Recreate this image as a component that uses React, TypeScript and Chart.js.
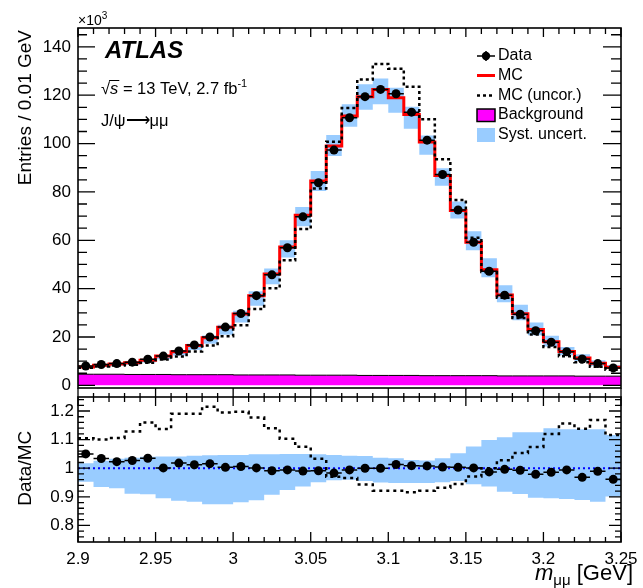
import React, { useEffect, useRef } from "react";
import { Chart, registerables } from "chart.js";
Chart.register(...registerables);

// ---------- data (bins of 0.01 GeV, lower edges) ----------
const binLow = [
  2.9, 2.91, 2.92, 2.93, 2.94, 2.95, 2.96, 2.97, 2.98, 2.99, 3.0, 3.01, 3.02, 3.03, 3.04, 3.05, 3.06, 3.07,
  3.08, 3.09, 3.1, 3.11, 3.12, 3.13, 3.14, 3.15, 3.16, 3.17, 3.18, 3.19, 3.2, 3.21, 3.22, 3.23, 3.24,
];
const binWidth = 0.01;

// Entries (x10^3)
const dataVals = [
  8.0, 8.6, 9.0, 9.6, 10.8, 12.1, 14.2, 16.7, 20.0, 24.1, 29.7, 37.1, 45.7, 56.9, 69.7, 83.8, 97.3, 110.7,
  119.4, 122.4, 120.6, 113.0, 101.4, 87.2, 72.5, 59.2, 47.2, 37.3, 29.4, 22.6, 17.8, 13.9, 10.9, 9.0, 7.2,
];
const mcVals = [
  7.6, 8.3, 8.8, 9.35, 10.4, 12.1, 13.9, 16.5, 19.7, 24.0, 29.5, 37.1, 46.1, 57.2, 70.3, 84.5, 99.0, 111.4,
  119.4, 122.4, 118.9, 112.0, 100.6, 86.8, 72.3, 59.2, 47.8, 37.4, 29.6, 23.1, 18.0, 14.0, 11.3, 9.1, 7.5,
];
const uncorVals = [
  7.3, 7.8, 8.2, 8.5, 9.3, 10.7, 11.9, 14.0, 16.5, 20.3, 24.9, 31.6, 40.2, 51.7, 64.7, 81.4, 100.8, 114.7,
  126.5, 132.9, 130.9, 123.5, 110.1, 93.5, 76.7, 61.0, 46.9, 36.2, 27.9, 21.0, 15.9, 12.0, 9.6, 7.7, 6.5,
];
const bkgVals = [
  4.6, 4.6, 4.6, 4.5, 4.5, 4.5, 4.4, 4.4, 4.4, 4.4, 4.3, 4.3, 4.3, 4.3, 4.2, 4.2, 4.2, 4.2,
  4.1, 4.1, 4.1, 4.1, 4.0, 4.0, 4.0, 4.0, 4.0, 3.9, 3.9, 3.9, 3.9, 3.9, 3.8, 3.8, 3.8,
];
// relative systematic band (upper / lower edge, as fraction of MC)
const systUp = [
  1.017, 1.026, 1.033, 1.037, 1.04, 1.041, 1.041, 1.044, 1.045, 1.046, 1.046, 1.049, 1.049, 1.05, 1.05, 1.049,
  1.046, 1.044, 1.043, 1.037, 1.035, 1.029, 1.027, 1.035, 1.052, 1.076, 1.099, 1.108, 1.126, 1.126, 1.14,
  1.136, 1.136, 1.136, 1.116,
];
const systDown = [
  0.953, 0.934, 0.93, 0.911, 0.909, 0.895, 0.886, 0.883, 0.874, 0.874, 0.881, 0.888, 0.907, 0.924, 0.936,
  0.951, 0.958, 0.96, 0.955, 0.95, 0.948, 0.948, 0.948, 0.951, 0.955, 0.944, 0.936, 0.918, 0.91, 0.897, 0.895,
  0.892, 0.889, 0.883, 0.901,
];
// Data/MC ratio
const ratioData = [
  1.05, 1.034, 1.023, 1.027, 1.035, 1.001, 1.018, 1.012, 1.016, 1.003, 1.006, 1.001, 0.991, 0.994, 0.99,
  0.991, 0.983, 0.994, 1.0, 1.0, 1.013, 1.009, 1.008, 1.004, 1.003, 1.001, 0.987, 0.996, 0.993, 0.979, 0.986,
  0.994, 0.968, 0.989, 0.961,
];
// Data/MC(uncor.) ratio
const ratioUncor = [
  1.105, 1.1, 1.106, 1.128, 1.16, 1.137, 1.19, 1.19, 1.215, 1.195, 1.197, 1.177, 1.14, 1.103, 1.075, 1.033,
  0.97, 0.966, 0.943, 0.921, 0.921, 0.916, 0.921, 0.932, 0.945, 0.971, 1.0, 1.028, 1.053, 1.074, 1.12, 1.156,
  1.138, 1.169, 1.116,
];

const xMin = 2.9;
const xMax = 3.25;
const yTopMin = -1.1;
const yTopMax = 147.8;
const yRatMin = 0.742;
const yRatMax = 1.249;

// ---------- styling ----------
const FONT = "'Liberation Sans', Arial, Helvetica, sans-serif";
const BAND = "#99ccff";
const W = 643;
const TOP_H = 398;
const BOT_TOP = 380;
const BOT_H = 208;

type Pt = { x: number; y: number | null };

function steps(vals: number[]): Pt[] {
  const pts: Pt[] = [];
  vals.forEach((v, i) => {
    pts.push({ x: binLow[i], y: v });
    pts.push({ x: binLow[i] + binWidth, y: v });
  });
  return pts;
}
function hbars(vals: number[]): Pt[] {
  const pts: Pt[] = [];
  vals.forEach((v, i) => {
    pts.push({ x: binLow[i], y: v });
    pts.push({ x: binLow[i] + binWidth, y: v });
    pts.push({ x: binLow[i] + binWidth, y: null });
  });
  return pts;
}
function centers(vals: number[]): Pt[] {
  return vals.map((v, i) => ({ x: binLow[i] + binWidth / 2, y: v }));
}

type FrameCfg = {
  xMajor: number;
  xMinor: number;
  yMajor: number;
  yMinor: number;
  left: [number, number];
  right: [number, number];
  top: [number, number];
  bottom: [number, number] | null;
  topOut: [number, number] | null;
};

function tickList(min: number, max: number, minor: number, major: number) {
  const res: [number, boolean][] = [];
  const n0 = Math.ceil(min / minor - 1e-6);
  const n1 = Math.floor(max / minor + 1e-6);
  for (let n = n0; n <= n1; n++) {
    const v = n * minor;
    const r = v / major;
    res.push([v, Math.abs(r - Math.round(r)) < 1e-6]);
  }
  return res;
}

function framePlugin(cfg: FrameCfg) {
  return {
    id: "rootFrame",
    afterDatasetsDraw(chart: any) {
      const { ctx, chartArea: a, scales } = chart;
      const xs = scales.x;
      const ys = scales.y;
      ctx.save();
      ctx.strokeStyle = "#000";
      ctx.lineWidth = 1.3;
      ctx.beginPath();
      for (const [v, maj] of tickList(xs.min, xs.max, cfg.xMinor, cfg.xMajor)) {
        const px = xs.getPixelForValue(v);
        const lt = maj ? cfg.top[0] : cfg.top[1];
        ctx.moveTo(px, a.top);
        ctx.lineTo(px, a.top + lt);
        if (cfg.bottom) {
          const lb = maj ? cfg.bottom[0] : cfg.bottom[1];
          ctx.moveTo(px, a.bottom);
          ctx.lineTo(px, a.bottom - lb);
        }
        if (cfg.topOut) {
          const lo = maj ? cfg.topOut[0] : cfg.topOut[1];
          ctx.moveTo(px, a.top);
          ctx.lineTo(px, a.top - lo);
        }
      }
      for (const [v, maj] of tickList(ys.min, ys.max, cfg.yMinor, cfg.yMajor)) {
        const py = ys.getPixelForValue(v);
        const ll = maj ? cfg.left[0] : cfg.left[1];
        const lr = maj ? cfg.right[0] : cfg.right[1];
        ctx.moveTo(a.left, py);
        ctx.lineTo(a.left + ll, py);
        ctx.moveTo(a.right, py);
        ctx.lineTo(a.right - lr, py);
      }
      ctx.stroke();
      ctx.lineWidth = 1.6;
      ctx.strokeRect(a.left, a.top, a.right - a.left, a.bottom - a.top);
      ctx.restore();
    },
  };
}

const topTextPlugin = {
  id: "topText",
  afterDraw(chart: any) {
    const ctx: CanvasRenderingContext2D = chart.ctx;
    ctx.save();
    ctx.fillStyle = "#000";
    ctx.textBaseline = "alphabetic";
    // x10^3
    ctx.font = `14px ${FONT}`;
    ctx.textAlign = "left";
    ctx.fillText("×10", 78, 25);
    const w10 = ctx.measureText("×10").width;
    ctx.font = `10px ${FONT}`;
    ctx.fillText("3", 78 + w10, 19);

    // y title
    ctx.save();
    ctx.translate(26, 30);
    ctx.rotate(-Math.PI / 2);
    ctx.font = `19px ${FONT}`;
    ctx.textAlign = "right";
    ctx.textBaseline = "middle";
    ctx.fillText("Entries / 0.01 GeV", 0, 0);
    ctx.restore();

    // ATLAS
    ctx.font = `italic bold 24px ${FONT}`;
    ctx.textAlign = "left";
    ctx.fillText("ATLAS", 105, 58);

    // sqrt(s) line
    let x = 101;
    const yb = 94;
    ctx.font = `16.5px ${FONT}`;
    ctx.fillText("√", x, yb);
    x += ctx.measureText("√").width;
    ctx.font = `italic 16.5px ${FONT}`;
    ctx.fillText("s", x, yb);
    const ws = ctx.measureText("s").width;
    ctx.lineWidth = 1;
    ctx.strokeStyle = "#000";
    ctx.beginPath();
    ctx.moveTo(x - 1, yb - 13.5);
    ctx.lineTo(x + ws + 1, yb - 13.5);
    ctx.stroke();
    x += ws;
    ctx.font = `16.5px ${FONT}`;
    const rest = " = 13 TeV, 2.7 fb";
    ctx.fillText(rest, x, yb);
    x += ctx.measureText(rest).width;
    ctx.font = `11px ${FONT}`;
    ctx.fillText("-1", x, yb - 7);

    // J/psi -> mu mu
    x = 101;
    ctx.font = `16.5px ${FONT}`;
    ctx.fillText("J/ψ", x, 126);
    x += ctx.measureText("J/ψ").width;
    ctx.fillText("⟶", x, 126);
    x += ctx.measureText("⟶").width;
    ctx.fillText("μμ", x, 126);

    // legend
    const lx0 = 477;
    const lx1 = 495;
    const tx = 498;
    const rows = [56, 75.5, 95.5, 115, 135];
    ctx.textBaseline = "middle";
    ctx.font = `16px ${FONT}`;
    // Data
    ctx.strokeStyle = "#000";
    ctx.lineWidth = 1.5;
    ctx.beginPath();
    ctx.moveTo(lx0, rows[0]);
    ctx.lineTo(lx1, rows[0]);
    ctx.moveTo((lx0 + lx1) / 2, rows[0] - 5);
    ctx.lineTo((lx0 + lx1) / 2, rows[0] + 5);
    ctx.stroke();
    ctx.beginPath();
    ctx.arc((lx0 + lx1) / 2, rows[0], 4.2, 0, Math.PI * 2);
    ctx.fill();
    ctx.fillText("Data", tx, rows[0]);
    // MC
    ctx.strokeStyle = "#ff0000";
    ctx.lineWidth = 3;
    ctx.beginPath();
    ctx.moveTo(lx0, rows[1]);
    ctx.lineTo(lx1, rows[1]);
    ctx.stroke();
    ctx.fillText("MC", tx, rows[1]);
    // MC uncor
    ctx.strokeStyle = "#000";
    ctx.lineWidth = 2.5;
    ctx.setLineDash([3, 3]);
    ctx.beginPath();
    ctx.moveTo(lx0, rows[2]);
    ctx.lineTo(lx1, rows[2]);
    ctx.stroke();
    ctx.setLineDash([]);
    ctx.fillText("MC (uncor.)", tx, rows[2]);
    // Background
    ctx.fillStyle = "#ff00ff";
    ctx.fillRect(lx0, rows[3] - 6, lx1 - lx0, 12.5);
    ctx.lineWidth = 1.5;
    ctx.strokeRect(lx0, rows[3] - 6, lx1 - lx0, 12.5);
    ctx.fillStyle = "#000";
    ctx.fillText("Background", tx, rows[3]);
    // Syst
    ctx.fillStyle = BAND;
    ctx.fillRect(lx0, rows[4] - 7, lx1 - lx0, 14);
    ctx.fillStyle = "#000";
    ctx.fillText("Syst. uncert.", tx, rows[4]);
    ctx.restore();
  },
};

const botTextPlugin = {
  id: "botText",
  afterDraw(chart: any) {
    const ctx: CanvasRenderingContext2D = chart.ctx;
    ctx.save();
    ctx.fillStyle = "#000";
    ctx.save();
    ctx.translate(26, chart.scales.y.getPixelForValue(1));
    ctx.rotate(-Math.PI / 2);
    ctx.font = `19px ${FONT}`;
    ctx.textAlign = "center";
    ctx.textBaseline = "middle";
    ctx.fillText("Data/MC", 0, 0);
    ctx.restore();

    // x title: m_{mumu} [GeV]
    const yb = 580 - BOT_TOP;
    ctx.textBaseline = "alphabetic";
    ctx.textAlign = "left";
    ctx.font = `italic 22px ${FONT}`;
    const wm = ctx.measureText("m").width;
    ctx.font = `15px ${FONT}`;
    const wmu = ctx.measureText("μμ").width;
    ctx.font = `22px ${FONT}`;
    const wg = ctx.measureText(" [GeV]").width;
    let x = 633 - (wm + wmu + wg);
    ctx.font = `italic 22px ${FONT}`;
    ctx.fillText("m", x, yb);
    x += wm;
    ctx.font = `15px ${FONT}`;
    ctx.fillText("μμ", x, yb + 5);
    x += wmu;
    ctx.font = `22px ${FONT}`;
    ctx.fillText(" [GeV]", x, yb);
    ctx.restore();
  },
};

function fmt(v: number) {
  return String(parseFloat(v.toFixed(3)));
}

const hiddenGrid = { display: false, drawTicks: false };

function fixY(s: any) {
  s.width = 78;
  s.paddingTop = 0;
  s.paddingBottom = 0;
}
function fixX(s: any) {
  s.height = 46;
  s.paddingLeft = 0;
  s.paddingRight = 0;
}

export default function App() {
  const topRef = useRef<HTMLCanvasElement | null>(null);
  const botRef = useRef<HTMLCanvasElement | null>(null);

  useEffect(() => {
    const bandLoTop = steps(mcVals.map((m, i) => m * systDown[i]));
    const bandHiTop = steps(mcVals.map((m, i) => m * systUp[i]));
    const clear = "rgba(0,0,0,0)";

    const top = new Chart(topRef.current as HTMLCanvasElement, {
      type: "line",
      data: {
        datasets: [
          { data: bandLoTop, borderColor: clear, borderWidth: 0, pointRadius: 0, fill: false, order: 10 },
          { data: bandHiTop, borderColor: clear, borderWidth: 0, pointRadius: 0, fill: "-1", backgroundColor: BAND, order: 9 },
          { data: steps(bkgVals), borderColor: "#000", borderWidth: 1, pointRadius: 0, fill: "origin", backgroundColor: "#ff00ff", order: 8 },
          { data: steps(mcVals), borderColor: "#ff0000", borderWidth: 3, pointRadius: 0, fill: false, order: 7 },
          { data: steps(uncorVals), borderColor: "#000", borderWidth: 2.5, borderDash: [3, 3], pointRadius: 0, fill: false, order: 6 },
          { data: hbars(dataVals), borderColor: "#000", borderWidth: 1.5, pointRadius: 0, fill: false, spanGaps: false, order: 5 },
          { data: centers(dataVals), showLine: false, pointRadius: 4.5, pointBackgroundColor: "#000", pointBorderWidth: 0, order: 4 },
        ] as any,
      },
      options: {
        animation: false,
        responsive: false,
        maintainAspectRatio: false,
        devicePixelRatio: window.devicePixelRatio || 1,
        layout: { padding: { left: 0, right: 22, top: 28, bottom: TOP_H - 388 } },
        scales: {
          x: { type: "linear", min: xMin, max: xMax, display: false },
          y: {
            type: "linear",
            min: yTopMin,
            max: yTopMax,
            grid: hiddenGrid,
            border: { display: false },
            ticks: { stepSize: 20, includeBounds: false, padding: 7, color: "#000", font: { family: FONT, size: 17 } },
            afterFit: fixY,
          },
        },
        plugins: { legend: { display: false }, tooltip: { enabled: false } },
      } as any,
      plugins: [
        framePlugin({
          xMajor: 0.05,
          xMinor: 0.01,
          yMajor: 20,
          yMinor: 5,
          left: [17, 9],
          right: [18, 10],
          top: [9, 6],
          bottom: null,
          topOut: null,
        }),
        topTextPlugin,
      ] as any,
    });

    const bot = new Chart(botRef.current as HTMLCanvasElement, {
      type: "line",
      data: {
        datasets: [
          { data: steps(systDown), borderColor: clear, borderWidth: 0, pointRadius: 0, fill: false, order: 10 },
          { data: steps(systUp), borderColor: clear, borderWidth: 0, pointRadius: 0, fill: "-1", backgroundColor: BAND, order: 9 },
          {
            data: [
              { x: xMin, y: 1 },
              { x: xMax, y: 1 },
            ],
            borderColor: "#0000ff",
            borderWidth: 2,
            borderDash: [2, 3],
            pointRadius: 0,
            fill: false,
            order: 8,
          },
          { data: steps(ratioUncor), borderColor: "#000", borderWidth: 2.5, borderDash: [3, 4], pointRadius: 0, fill: false, order: 7 },
          { data: hbars(ratioData), borderColor: "#000", borderWidth: 1.5, pointRadius: 0, fill: false, spanGaps: false, order: 6 },
          { data: centers(ratioData), showLine: false, pointRadius: 4.5, pointBackgroundColor: "#000", pointBorderWidth: 0, order: 5 },
        ] as any,
      },
      options: {
        animation: false,
        responsive: false,
        maintainAspectRatio: false,
        devicePixelRatio: window.devicePixelRatio || 1,
        layout: { padding: { left: 0, right: 22, top: 17, bottom: 0 } },
        scales: {
          x: {
            type: "linear",
            min: xMin,
            max: xMax,
            grid: hiddenGrid,
            border: { display: false },
            ticks: {
              stepSize: 0.05,
              autoSkip: false,
              maxRotation: 0,
              padding: 7,
              color: "#000",
              font: { family: FONT, size: 17 },
              callback: (v: any) => fmt(Number(v)),
            },
            afterFit: fixX,
          },
          y: {
            type: "linear",
            min: yRatMin,
            max: yRatMax,
            grid: hiddenGrid,
            border: { display: false },
            ticks: {
              stepSize: 0.1,
              includeBounds: false,
              padding: 4,
              color: "#000",
              font: { family: FONT, size: 17 },
              callback: (v: any) => fmt(Number(v)),
            },
            afterFit: fixY,
          },
        },
        plugins: { legend: { display: false }, tooltip: { enabled: false } },
      } as any,
      plugins: [
        framePlugin({
          xMajor: 0.05,
          xMinor: 0.01,
          yMajor: 0.1,
          yMinor: 0.02,
          left: [12, 6],
          right: [12, 6],
          top: [9, 5],
          bottom: [10, 5],
          topOut: [9, 4],
        }),
        botTextPlugin,
      ] as any,
    });

    return () => {
      top.destroy();
      bot.destroy();
    };
  }, []);

  return (
    <div style={{ position: "absolute", left: 0, top: 0, width: W, height: 588, background: "#fff" }}>
      <canvas
        ref={topRef}
        width={W}
        height={TOP_H}
        style={{ position: "absolute", left: 0, top: 0, width: W, height: TOP_H, display: "block" }}
      />
      <canvas
        ref={botRef}
        width={W}
        height={BOT_H}
        style={{ position: "absolute", left: 0, top: BOT_TOP, width: W, height: BOT_H, display: "block" }}
      />
    </div>
  );
}
